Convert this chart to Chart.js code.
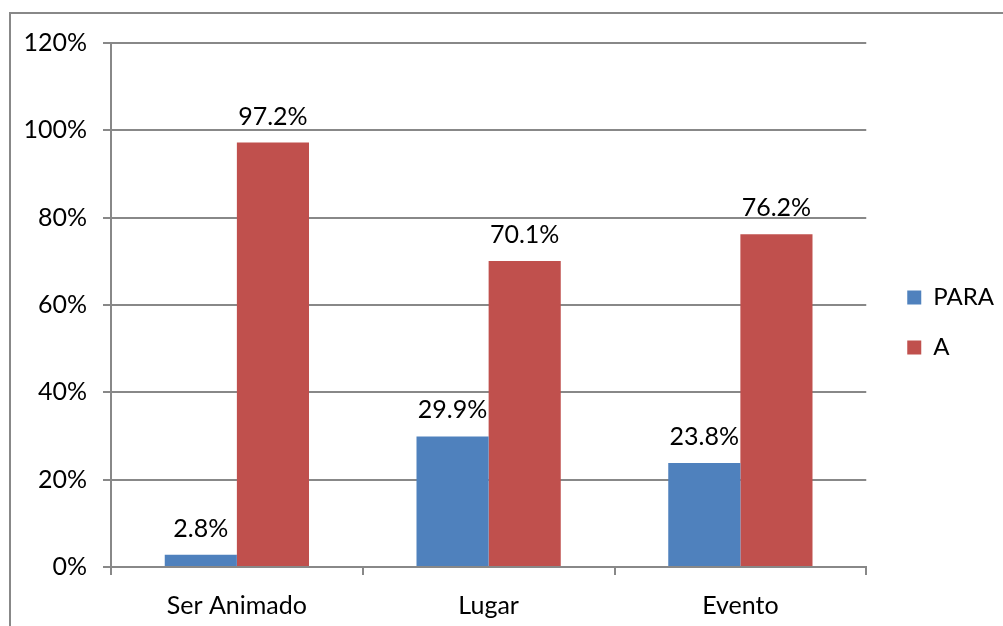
<!DOCTYPE html>
<html>
<head>
<meta charset="utf-8">
<script src="https://cdn.jsdelivr.net/npm/chart.js@4/dist/chart.umd.min.js"></script>
<style>
  html, body { margin: 0; padding: 0; background: #fff; overflow: hidden; }
  .frame {
    position: absolute; left: 9px; top: 12px; width: 1100px; height: 700px;
    border-left: 2px solid #888; border-top: 2px solid #888;
  }
  .wrap { position: absolute; left: 0; top: 0; width: 1003px; height: 626px; }
</style>
</head>
<body>
<div class="frame"></div>
<div class="wrap"><canvas id="chart" width="1003" height="626"></canvas></div>
<script>
const categories = ["Ser Animado", "Lugar", "Evento"];
const paraValues = [2.8, 29.9, 23.8];
const aValues = [97.2, 70.1, 76.2];
const seriesNames = ["PARA", "A"];

const FONT = "Lato, 'Open Sans', sans-serif";
Chart.defaults.font.family = FONT;
Chart.defaults.font.size = 25;
Chart.defaults.color = "#000";

// value labels above each bar
const barLabels = {
  id: "barLabels",
  afterDatasetsDraw(chart) {
    const ctx = chart.ctx;
    ctx.save();
    ctx.font = "25px " + FONT;
    ctx.fillStyle = "#000";
    ctx.textAlign = "center";
    ctx.textBaseline = "middle";
    chart.data.datasets.forEach((ds, i) => {
      chart.getDatasetMeta(i).data.forEach((bar, j) => {
        ctx.fillText(ds.data[j].toFixed(1) + "%", bar.x, bar.y - 26);
      });
    });
    ctx.restore();
  }
};

// nudge the legend up and to the right a little
const legendShift = {
  id: "legendShift",
  afterLayout(chart) {
    chart.legend.top -= 12;
    chart.legend.bottom -= 12;
    chart.legend.left += 15;
    chart.legend.right += 15;
  }
};

new Chart(document.getElementById("chart"), {
  type: "bar",
  data: {
    labels: categories,
    datasets: [
      { label: seriesNames[0], data: paraValues, backgroundColor: "#4F81BD" },
      { label: seriesNames[1], data: aValues, backgroundColor: "#C0504D" }
    ]
  },
  options: {
    responsive: false,
    animation: false,
    layout: { padding: { top: 43, right: 14, left: 0, bottom: 0 } },
    datasets: { bar: { categoryPercentage: 0.573, barPercentage: 1 } },
    plugins: {
      tooltip: { enabled: false },
      legend: {
        position: "right",
        labels: { boxWidth: 14, boxHeight: 14, padding: 26, font: { size: 24 } }
      }
    },
    scales: {
      x: {
        grid: { offset: true, drawOnChartArea: false, color: "#888", lineWidth: 2, tickLength: 8 },
        border: { color: "#888", width: 2 },
        ticks: { padding: 16 },
        afterFit(scale) { scale.height = 59; }
      },
      y: {
        min: 0, max: 120,
        ticks: { stepSize: 20, padding: 16, callback: v => v + "%" },
        grid: { color: "#888", lineWidth: 2, tickLength: 8 },
        border: { color: "#888", width: 2 },
        afterFit(scale) { scale.width = 111; }
      }
    }
  },
  plugins: [barLabels, legendShift]
});
</script>
</body>
</html>
